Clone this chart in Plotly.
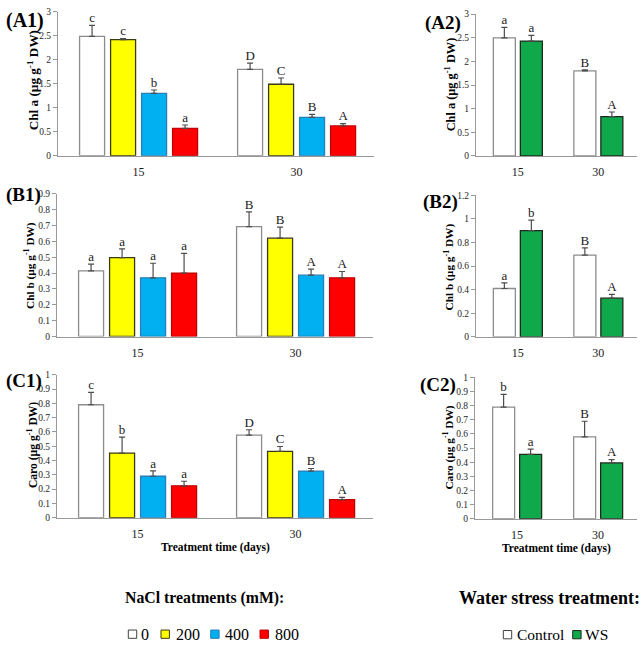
import plotly.graph_objects as go

# ---------------- data ----------------
days = ["15", "30"]
nacl_levels = ["0", "200", "400", "800"]
ws_levels = ["Control", "WS"]

# Chl a, NaCl (per level: [15 d, 30 d])
chla_nacl_0 = [2.49, 1.80]
chla_nacl_200 = [2.42, 1.49]
chla_nacl_400 = [1.30, 0.80]
chla_nacl_800 = [0.57, 0.62]
chla_nacl_err = [[0.23, 0.13], [0.02, 0.13], [0.07, 0.06], [0.07, 0.05]]
chla_nacl_let = [["c", "D"], ["c", "C"], ["b", "B"], ["a", "A"]]

# Chl a, water stress
chla_ws_control = [2.50, 1.80]
chla_ws_ws = [2.43, 0.83]
chla_ws_err = [[0.22, 0.02], [0.12, 0.10]]
chla_ws_let = [["a", "B"], ["a", "A"]]

# Chl b, NaCl
chlb_nacl_0 = [0.414, 0.693]
chlb_nacl_200 = [0.497, 0.620]
chlb_nacl_400 = [0.370, 0.387]
chlb_nacl_800 = [0.400, 0.370]
chlb_nacl_err = [[0.042, 0.093], [0.055, 0.069], [0.092, 0.038], [0.124, 0.040]]
chlb_nacl_let = [["a", "B"], ["a", "B"], ["a", "A"], ["a", "A"]]

# Chl b, water stress
chlb_ws_control = [0.41, 0.693]
chlb_ws_ws = [0.90, 0.328]
chlb_ws_err = [[0.047, 0.061], [0.09, 0.032]]
chlb_ws_let = [["a", "B"], ["b", "A"]]

# Carotenoids, NaCl
caro_nacl_0 = [0.79, 0.578]
caro_nacl_200 = [0.452, 0.464]
caro_nacl_400 = [0.290, 0.326]
caro_nacl_800 = [0.223, 0.127]
caro_nacl_err = [[0.087, 0.037], [0.111, 0.034], [0.038, 0.018], [0.032, 0.015]]
caro_nacl_let = [["c", "D"], ["b", "C"], ["a", "B"], ["a", "A"]]

# Carotenoids, water stress
caro_ws_control = [0.79, 0.58]
caro_ws_ws = [0.456, 0.395]
caro_ws_err = [[0.09, 0.11], [0.037, 0.023]]
caro_ws_let = [["b", "B"], ["a", "A"]]

panel_labels = ["(A1)", "(A2)", "(B1)", "(B2)", "(C1)", "(C2)"]
y_titles = ["Chl a (µg g<sup>-1</sup> DW)", "Chl b (µg g<sup>-1</sup> DW)",
            "Caro (µg g<sup>-1</sup> DW)"]
x_title = "Treatment time (days)"
nacl_legend_title = "NaCl treatments (mM):"
ws_legend_title = "Water stress treatment:"

# ---------------- styles ----------------
W, H = 644, 650
FONT = "Liberation Serif"
nacl_fill = ["#FFFFFF", "#FFFF00", "#00B0F0", "#FF0000"]
nacl_line = ["#8C8C8C", "#3A3A10", "#2A7DB5", "#C00000"]
ws_fill = ["#FFFFFF", "#0FA84B"]
ws_line = ["#8C8C8C", "#1E2A1E"]


def px(x):
    return x / W


def py(y):
    return 1 - y / H


fig = go.Figure()

panels = [
    ("1", [chla_nacl_0, chla_nacl_200, chla_nacl_400, chla_nacl_800], chla_nacl_err, chla_nacl_let,
     "nacl", (58, 374), (7, 153), 3, 0.5),
    ("2", [chla_ws_control, chla_ws_ws], chla_ws_err, chla_ws_let,
     "ws", (476, 637), (9.3, 153.3), 3, 0.5),
    ("3", [chlb_nacl_0, chlb_nacl_200, chlb_nacl_400, chlb_nacl_800], chlb_nacl_err, chlb_nacl_let,
     "nacl", (57, 373), (191.7, 336.7), 0.9, 0.1),
    ("4", [chlb_ws_control, chlb_ws_ws], chlb_ws_err, chlb_ws_let,
     "ws", (476, 637), (193.3, 337), 1.2, 0.2),
    ("5", [caro_nacl_0, caro_nacl_200, caro_nacl_400, caro_nacl_800], caro_nacl_err, caro_nacl_let,
     "nacl", (57, 373), (375.5, 520.7), 1.0, 0.1),
    ("6", [caro_ws_control, caro_ws_ws], caro_ws_err, caro_ws_let,
     "ws", (475, 637), (378.3, 521.7), 1.0, 0.1),
]

xpos = list(range(len(days)))

for idx, (k, series, errs, lets, kind, xd, yd, ymax, dt) in enumerate(panels):
    xa = "x" if k == "1" else "x" + k
    ya = "y" if k == "1" else "y" + k
    unit = (xd[1] - xd[0]) / 2.0
    if kind == "nacl":
        bw = 25 / unit
        pitch = 31 / unit
        centers = [(-1.5 + i) * pitch for i in range(4)]
        fills, lines, names = nacl_fill, nacl_line, nacl_levels
        xr = [-0.51, 1.49]
    else:
        bw = 22 / unit
        pitch = 27 / unit
        centers = [(-0.5 + i) * pitch for i in range(2)]
        fills, lines, names = ws_fill, ws_line, ws_levels
        xr = [-0.52, 1.48]
    for i, vals in enumerate(series):
        fig.add_trace(go.Bar(
            x=xpos, y=vals, name=names[i], xaxis=xa, yaxis=ya,
            width=bw, offset=centers[i] - bw / 2,
            marker=dict(color=fills[i], line=dict(color=lines[i], width=1.3)),
            error_y=dict(type="data", array=errs[i], arrayminus=[0, 0], symmetric=False,
                         color="#4D4D4D", thickness=1.2, width=3),
            showlegend=False, hoverinfo="skip"))
        fig.add_trace(go.Scatter(
            x=[p + centers[i] for p in xpos],
            y=[v + e for v, e in zip(vals, errs[i])],
            text=lets[i], mode="text", textposition="top center",
            textfont=dict(family=FONT, size=13, color="#1A1A1A"),
            xaxis=xa, yaxis=ya, showlegend=False, hoverinfo="skip", cliponaxis=False))
    xkey = "xaxis" if k == "1" else "xaxis" + k
    ykey = "yaxis" if k == "1" else "yaxis" + k
    fig.layout[xkey] = dict(
        domain=[px(xd[0]), px(xd[1])], range=xr, anchor=ya,
        tickmode="array", tickvals=xpos, ticktext=days, ticks="",
        showline=True, linecolor="#999999", linewidth=1.3, showgrid=False, zeroline=False,
        tickfont=dict(family=FONT, size=12, color="#1A1A1A"), ticklabelstandoff=5,
        fixedrange=True)
    fig.layout[ykey] = dict(
        domain=[py(yd[1]), py(yd[0])], range=[0, ymax], anchor=xa,
        dtick=dt, tick0=0, ticks="outside", ticklen=4, tickcolor="#999999",
        showline=True, linecolor="#999999", linewidth=1.1, showgrid=False, zeroline=False,
        tickfont=dict(family=FONT, size=9.5, color="#262626"), fixedrange=True)

annotations = []
label_pos = [(4, 16, 20), (423, 18, 19), (4, 193, 19), (421, 200, 19), (4, 382, 19), (418, 386, 19)]
for lab, (lx, ly, fs) in zip(panel_labels, label_pos):
    annotations.append(dict(text="<b>" + lab + "</b>", x=px(lx), y=py(ly), xref="paper", yref="paper",
                            xanchor="left", yanchor="middle", showarrow=False,
                            font=dict(family=FONT, size=fs, color="#000000")))
ytitle_pos = [(33, 76.5, 0, 13.2), (450, 80.5, 0, 12.3), (30, 265, 1, 11.3),
              (449, 266.5, 1, 11.3), (32, 447, 2, 11.6), (449, 449.5, 2, 11.3)]
for (tx, ty, ti, fs) in ytitle_pos:
    annotations.append(dict(text="<b>" + y_titles[ti] + "</b>", x=px(tx), y=py(ty), xref="paper",
                            yref="paper", textangle=-90, xanchor="center", yanchor="middle",
                            showarrow=False, font=dict(family=FONT, size=fs, color="#000000")))
for (tx, ty) in [(215, 551), (556, 552)]:
    annotations.append(dict(text="<b>" + x_title + "</b>", x=px(tx), y=py(ty), xref="paper", yref="paper",
                            xanchor="center", yanchor="middle", showarrow=False,
                            font=dict(family=FONT, size=11.5, color="#000000")))
annotations.append(dict(text="<b>" + nacl_legend_title + "</b>", x=px(123), y=py(602), xref="paper",
                        yref="paper", xanchor="left", yanchor="middle", showarrow=False,
                        font=dict(family=FONT, size=15.8, color="#000000")))
annotations.append(dict(text="<b>" + ws_legend_title + "</b>", x=px(642), y=py(602), xref="paper",
                        yref="paper", xanchor="right", yanchor="middle", showarrow=False,
                        font=dict(family=FONT, size=18, color="#000000")))

shapes = []
nacl_sw = [(128.3, 139.3), (161, 173.5), (210.7, 223), (260, 272.5)]
for i, (sx, tx) in enumerate(nacl_sw):
    shapes.append(dict(type="rect", xref="paper", yref="paper", x0=px(sx), x1=px(sx + 8.4),
                       y0=py(643.2), y1=py(634.8), fillcolor=nacl_fill[i],
                       line=dict(color="#404040" if i == 0 else nacl_line[i], width=1)))
    annotations.append(dict(text=nacl_levels[i], x=px(tx), y=py(639), xref="paper", yref="paper",
                            xanchor="left", yanchor="middle", showarrow=False,
                            font=dict(family=FONT, size=16, color="#000000")))
ws_sw = [(503.3, 514.5), (572.7, 582.8)]
for i, (sx, tx) in enumerate(ws_sw):
    shapes.append(dict(type="rect", xref="paper", yref="paper", x0=px(sx), x1=px(sx + 8.4),
                       y0=py(643.7), y1=py(635.3), fillcolor=ws_fill[i],
                       line=dict(color="#404040" if i == 0 else ws_line[i], width=1)))
    annotations.append(dict(text=ws_levels[i], x=px(tx), y=py(639.5), xref="paper", yref="paper",
                            xanchor="left", yanchor="middle", showarrow=False,
                            font=dict(family=FONT, size=15.5, color="#000000")))

fig.update_layout(
    width=W, height=H, margin=dict(l=0, r=0, t=0, b=0),
    paper_bgcolor="white", plot_bgcolor="white",
    barmode="overlay", showlegend=False,
    annotations=annotations, shapes=shapes,
    font=dict(family=FONT),
)

# remove the browser's default 8px body margin so the figure sits at the window origin
fig.write_html("out.html", config={"displayModeBar": False},
               post_script="document.body.style.margin='0';")
